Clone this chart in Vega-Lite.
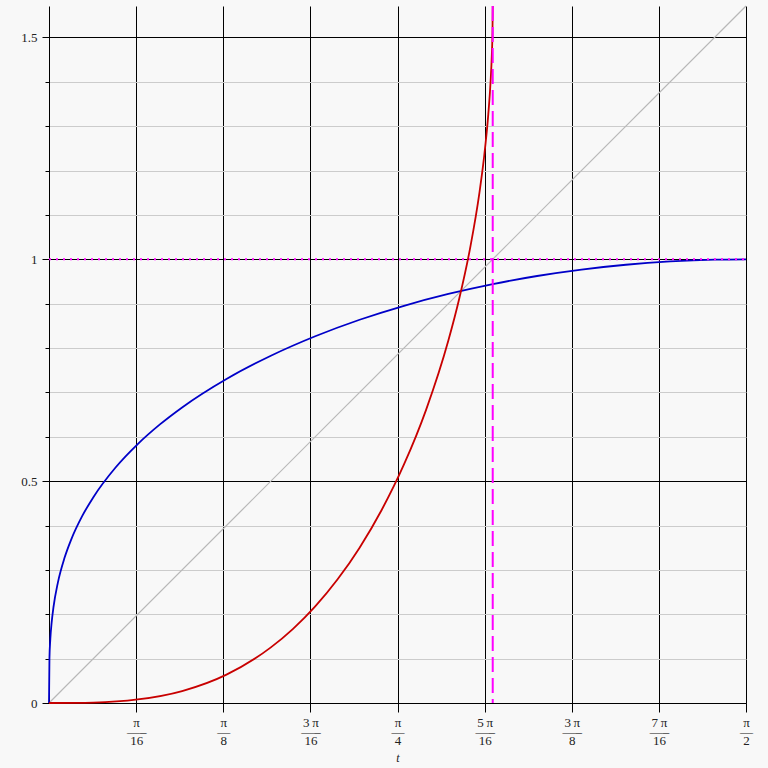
{
  "$schema": "https://vega.github.io/schema/vega-lite/v6.json",
  "autosize": "none",
  "width": 697,
  "height": 697,
  "padding": {"left": 49, "top": 6, "right": 22, "bottom": 65},
  "background": "#f8f8f8",
  "config": {"view": {"stroke": null}},
  "datasets": {
    "blue": [
      {"t": 0, "y": 0}, {"t": 0.001, "y": 0.1}, {"t": 0.003, "y": 0.1442}, {"t": 0.006, "y": 0.1817},
      {"t": 0.01, "y": 0.2154}, {"t": 0.02, "y": 0.2714}, {"t": 0.035, "y": 0.3271}, {"t": 0.05, "y": 0.3683},
      {"t": 0.075, "y": 0.4216}, {"t": 0.1, "y": 0.4639}, {"t": 0.15, "y": 0.5307}, {"t": 0.2, "y": 0.5835},
      {"t": 0.25, "y": 0.6278}, {"t": 0.3, "y": 0.6661}, {"t": 0.4, "y": 0.7302}, {"t": 0.5, "y": 0.7826},
      {"t": 0.6, "y": 0.8265}, {"t": 0.7, "y": 0.8637}, {"t": 0.8, "y": 0.8952}, {"t": 0.9, "y": 0.9218},
      {"t": 1.0, "y": 0.9441}, {"t": 1.1, "y": 0.9623}, {"t": 1.2, "y": 0.9768}, {"t": 1.3, "y": 0.9877},
      {"t": 1.4, "y": 0.9951}, {"t": 1.5, "y": 0.9992}, {"t": 1.5708, "y": 1}
    ],
    "red": [
      {"t": 0, "y": 0}, {"t": 0.1, "y": 0.001}, {"t": 0.2, "y": 0.008}, {"t": 0.3, "y": 0.027},
      {"t": 0.4, "y": 0.06404}, {"t": 0.5, "y": 0.12533}, {"t": 0.55, "y": 0.16715}, {"t": 0.6, "y": 0.21775},
      {"t": 0.65, "y": 0.2782}, {"t": 0.7, "y": 0.3501}, {"t": 0.75, "y": 0.43549}, {"t": 0.8, "y": 0.53752},
      {"t": 0.85, "y": 0.66127}, {"t": 0.9, "y": 0.81685}, {"t": 0.925, "y": 0.91318}, {"t": 0.95, "y": 1.03015},
      {"t": 0.97, "y": 1.14978}, {"t": 0.98, "y": 1.22615}, {"t": 0.99, "y": 1.32646}, {"t": 0.995, "y": 1.39781},
      {"t": 0.998, "y": 1.46131}, {"t": 0.9995, "y": 1.51603}, {"t": 1.0, "y": 1.5708}
    ],
    "diag": [{"t": 0, "y": 0}, {"t": 1.5708, "y": 1.5708}],
    "hline": [{"t": 0, "y": 1}, {"t": 1.5708, "y": 1}],
    "vline": [{"t": 1}]
  },
  "layer": [
    {
      "data": {"name": "diag"},
      "mark": {"type": "line", "color": "#b8b8b8", "strokeWidth": 1.2},
      "encoding": {
        "x": {
          "field": "t", "type": "quantitative",
          "scale": {"domain": [0, 1.5707963267948966], "nice": false, "zero": false},
          "axis": {
            "values": [0.19634954084936207, 0.39269908169872414, 0.5890486225480862, 0.7853981633974483, 0.9817477042468103, 1.1780972450961724, 1.3744467859455345, 1.5707963267948966],
            "grid": true, "gridColor": "black", "gridWidth": 1, "gridOpacity": 1,
            "domainColor": "black", "domainWidth": 1,
            "tickColor": "black", "tickSize": 9, "tickWidth": 1,
            "labelFont": "Liberation Serif", "labelFontSize": 13, "labelColor": "#222",
            "labelLineHeight": 9, "labelPadding": 4, "labelFlush": false, "labelOverlap": false,
            "labelExpr": "[['π','—–','16'],['π','—','8'],['3\u2009π','—–','16'],['π','—','4'],['5\u2009π','—–','16'],['3\u2009π','—–','8'],['7\u2009π','—–','16'],['π','—','2']][round(datum.value*16/PI)-1]",
            "title": "t", "titleFont": "Liberation Serif", "titleFontStyle": "italic", "titleFontWeight": "normal",
            "titleFontSize": 12, "titleColor": "#222", "titlePadding": 5
          }
        },
        "y": {
          "field": "y", "type": "quantitative",
          "scale": {"domain": [0, 1.5707963267948966], "nice": false, "zero": false},
          "axis": {
            "values": [0, 0.1, 0.2, 0.3, 0.4, 0.5, 0.6, 0.7, 0.8, 0.9, 1, 1.1, 1.2, 1.3, 1.4, 1.5],
            "grid": true,
            "gridColor": {"condition": {"test": "datum.value % 0.5 === 0", "value": "black"}, "value": "#cccccc"},
            "gridWidth": 1, "gridOpacity": 1,
            "domainColor": "black", "domainWidth": 1,
            "tickColor": "black", "tickWidth": 1,
            "tickSize": {"condition": {"test": "datum.value % 0.5 === 0", "value": 7}, "value": 4},
            "labelExpr": "datum.value % 0.5 === 0 ? format(datum.value, '~g') : ''",
            "labelFont": "Liberation Serif", "labelFontSize": 13, "labelColor": "#222",
            "labelPadding": 5, "labelOverlap": false, "labelFlush": false,
            "title": null
          }
        }
      }
    },
    {
      "data": {"name": "blue"},
      "mark": {"type": "line", "color": "#0000c8", "strokeWidth": 1.8, "interpolate": "monotone"},
      "encoding": {"x": {"field": "t", "type": "quantitative"}, "y": {"field": "y", "type": "quantitative"}}
    },
    {
      "data": {"name": "red"},
      "mark": {"type": "line", "color": "#c80000", "strokeWidth": 1.8, "interpolate": "monotone"},
      "encoding": {"x": {"field": "t", "type": "quantitative"}, "y": {"field": "y", "type": "quantitative"}}
    },
    {
      "data": {"name": "hline"},
      "mark": {"type": "line", "color": "#ff00ff", "strokeWidth": 2, "strokeDash": [2, 5]},
      "encoding": {"x": {"field": "t", "type": "quantitative"}, "y": {"field": "y", "type": "quantitative"}}
    },
    {
      "data": {"name": "vline"},
      "mark": {"type": "rule", "color": "#ff00ff", "strokeWidth": 2, "strokeDash": [15, 6]},
      "encoding": {"x": {"field": "t", "type": "quantitative"}}
    }
  ]
}
